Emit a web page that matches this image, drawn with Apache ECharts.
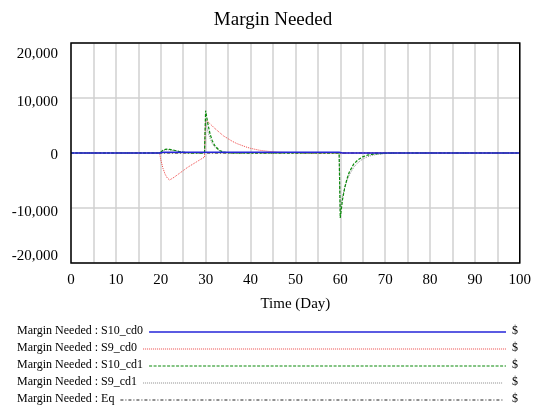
<!DOCTYPE html>
<html>
<head>
<meta charset="utf-8">
<script src="https://cdn.jsdelivr.net/npm/echarts@6/dist/echarts.min.js"></script>
<style>
  html, body { margin: 0; padding: 0; background: #fff; }
  #chart { width: 534px; height: 412px; }
</style>
</head>
<body>
<div id="chart"></div>
<script>
// time (days) - repeated near jumps so steps draw vertical
const time = [0, 19.75, 20, 20.5, 21, 21.5, 22, 23, 24, 25, 26, 27, 28, 29, 29.75, 30, 30.5, 31, 31.5, 32,
  33, 34, 35, 36, 37, 38, 39, 40, 42, 44, 46, 50, 55, 59.75, 60, 60.5, 61, 61.5, 62, 63,
  64, 65, 66, 67, 68, 70, 72, 75, 100]

const s10cd0 = [0, 0, 150, 150, 150, 150, 150, 150, 150, 150, 150, 150, 150, 150, 150, 150, 150, 150, 150, 150,
  150, 150, 150, 150, 150, 150, 150, 150, 150, 150, 150, 150, 150, 150, 0, 0, 0, 0, 0, 0,
  0, 0, 0, 0, 0, 0, 0, 0, 0]
const s9cd0 = [0, 0, -1200, -2800, -3900, -4600, -4900, -4400, -3800, -3200, -2600, -2100, -1600, -1100, -750, 6000, 5700, 5300, 4900, 4500,
  3800, 3100, 2600, 2100, 1700, 1400, 1100, 850, 500, 300, 150, 50, 0, 0, 0, 0, 0, 0, 0, 0,
  0, 0, 0, 0, 0, 0, 0, 0, 0]
const s10cd1 = [0, 0, 200, 500, 650, 700, 650, 500, 300, 150, 50, 0, 0, 0, 0, 7700, 5300, 3400, 2200, 1400,
  500, 150, 50, 0, 0, 0, 0, 0, 0, 0, 0, 0, 0, 0, -11800, -8500, -6300, -4700, -3500, -2000,
  -1200, -700, -400, -250, -150, -50, 0, 0, 0]
const s9cd1 = [0, 0, 150, 400, 550, 600, 550, 450, 300, 150, 50, 0, 0, 0, 0, 5800, 3900, 2600, 1700, 1100,
  450, 150, 50, 0, 0, 0, 0, 0, 0, 0, 0, 0, 0, 0, -10500, -8000, -6300, -5000, -4000, -2600,
  -1700, -1100, -700, -450, -280, -100, -30, 0, 0]
const eq = time.map(() => 0)

const names = ['Margin Needed : S10_cd0', 'Margin Needed : S9_cd0', 'Margin Needed : S10_cd1', 'Margin Needed : S9_cd1', 'Margin Needed : Eq']
const values = [s10cd0, s9cd0, s10cd1, s9cd1, eq]
const yTicks = [-20000, -10000, 0, 10000, 20000]

const styles = [
  { color: '#2424d8', type: 'solid', width: 1.6, z: 10 },
  { color: '#ee4444', type: [1, 1], width: 1, z: 4 },
  { color: '#0a8a0a', type: [3, 1.5], width: 1.2, z: 6 },
  { color: '#8c8c8c', type: [1, 1], width: 1, z: 5 },
  { color: '#222222', type: [3, 2, 1, 2], width: 1, z: 3 }
]

const font = 'Liberation Serif'
const chart = echarts.init(document.getElementById('chart'))

// legend rows drawn below the plot: text, line, unit
const measure = document.createElement('canvas').getContext('2d')
measure.font = '12px "' + font + '"'
const legendEls = []
names.forEach((n, i) => {
  const y = 332 + i * 17
  const w = measure.measureText(n).width
  legendEls.push({ type: 'text', left: 17, top: y - 7, style: { text: n, font: '12px "' + font + '"', fill: '#000' } })
  legendEls.push({
    type: 'line', shape: { x1: 17 + w + 6, y1: y, x2: i < 3 ? 506 : 503, y2: y },
    style: { stroke: styles[i].color, lineWidth: styles[i].width, lineDash: styles[i].type === 'solid' ? null : styles[i].type }
  })
  legendEls.push({ type: 'text', left: 512, top: y - 7, style: { text: '$', font: '12px "' + font + '"', fill: '#000' } })
})

const yPad = { '20000': [22, 0, 0, 0], '10000': [9, 0, 0, 0], '0': [4, 0, 0, 0], '-10000': [9, 0, 0, 0], '-20000': [0, 0, 14, 0] }
const rich = {}
yTicks.forEach((v, i) => { rich['p' + i] = { fontFamily: font, fontSize: 15, color: '#000', padding: yPad[String(v)] } })

chart.setOption({
  animation: false,
  title: {
    text: 'Margin Needed', left: 268, top: 6, textAlign: 'center',
    textStyle: { fontFamily: font, fontSize: 19, fontWeight: 'normal', color: '#000' }
  },
  grid: { left: 71, right: 14, top: 43, bottom: 149, show: true, borderColor: '#000', borderWidth: 1.5, z: 20 },
  xAxis: {
    type: 'value', min: 0, max: 100, interval: 5,
    name: 'Time (Day)', nameLocation: 'middle', nameGap: 34,
    nameTextStyle: { fontFamily: font, fontSize: 15, color: '#000' },
    axisLine: { show: false }, axisTick: { show: false },
    axisLabel: { fontFamily: font, fontSize: 15, color: '#000', margin: 10, formatter: v => (v % 10 === 0 ? String(v) : '') },
    splitLine: { lineStyle: { color: '#d0d0d0', width: 1.5 } }
  },
  yAxis: {
    type: 'value', min: -20000, max: 20000, interval: 10000,
    axisLine: { show: false }, axisTick: { show: false },
    axisLabel: {
      margin: 13,
      formatter: v => '{p' + yTicks.indexOf(v) + '|' + v.toLocaleString('en-US') + '}',
      rich: rich
    },
    splitLine: { lineStyle: { color: '#d0d0d0', width: 1.5 } }
  },
  series: names.map((n, i) => ({
    name: n, type: 'line', showSymbol: false, z: styles[i].z,
    data: time.map((t, k) => [t, values[i][k]]),
    lineStyle: { color: styles[i].color, type: styles[i].type, width: styles[i].width },
    itemStyle: { color: styles[i].color }
  })),
  graphic: legendEls
})
</script>
</body>
</html>
